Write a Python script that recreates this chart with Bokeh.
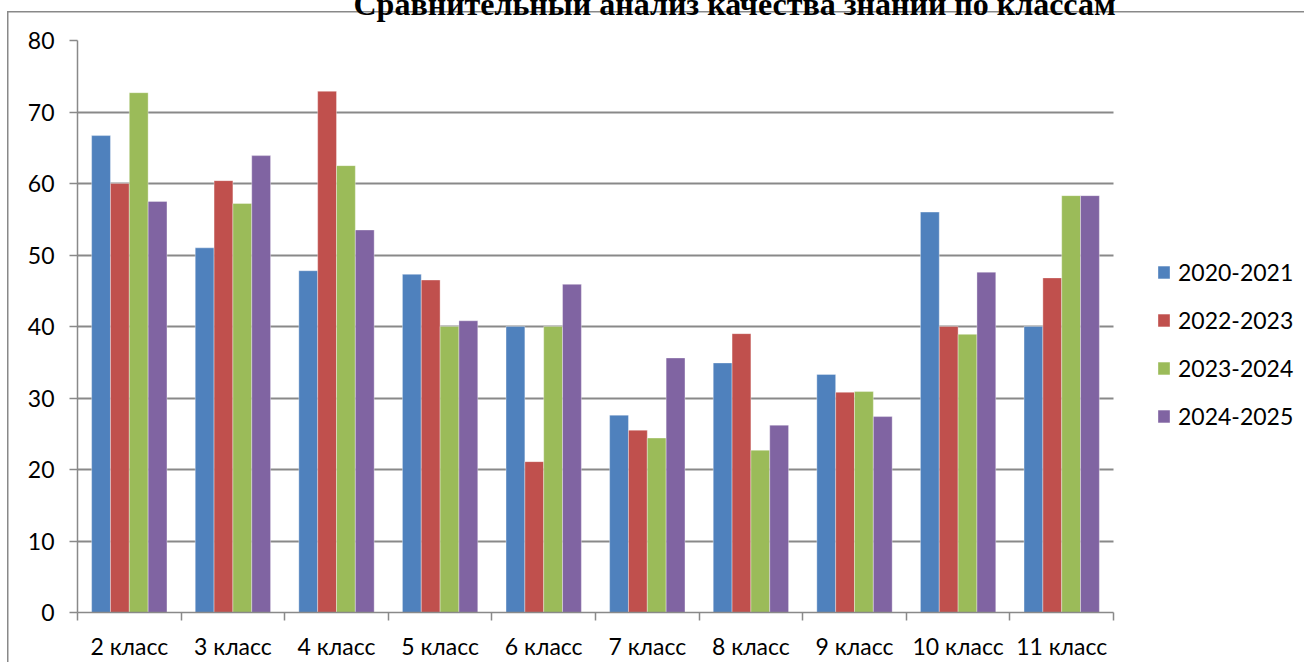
from bokeh.plotting import figure
from bokeh.models import Range1d, FixedTicker, Legend, LegendItem, ColumnDataSource
from bokeh.transform import dodge
from bokeh.embed import file_html
from bokeh.resources import INLINE

# ---- data ----
title_text = "Сравнительный анализ качества знаний по классам"
classes = ["2 класс", "3 класс", "4 класс", "5 класс", "6 класс",
           "7 класс", "8 класс", "9 класс", "10 класс", "11 класс"]
years = ["2020-2021", "2022-2023", "2023-2024", "2024-2025"]
v2020_2021 = [66.7, 51.0, 47.8, 47.3, 40.0, 27.6, 34.9, 33.3, 56.0, 40.0]
v2022_2023 = [60.0, 60.4, 72.9, 46.5, 21.1, 25.5, 39.0, 30.8, 40.0, 46.8]
v2023_2024 = [72.7, 57.2, 62.5, 40.0, 40.0, 24.4, 22.7, 30.9, 38.9, 58.3]
v2024_2025 = [57.5, 63.9, 53.5, 40.8, 45.9, 35.6, 26.2, 27.4, 47.6, 58.3]
y_ticks = [0, 10, 20, 30, 40, 50, 60, 70, 80]
colors = ["#4F81BD", "#C0504D", "#9BBB59", "#8064A2"]

series = [v2020_2021, v2022_2023, v2023_2024, v2024_2025]
n = len(classes)
centers = [i + 0.5 for i in range(n)]          # category slot centres
source = ColumnDataSource(data=dict(xc=centers, s0=series[0], s1=series[1],
                                    s2=series[2], s3=series[3]))

SHIFT = 36
W, H = 1304, 662 + SHIFT
GRAY = "#898989"
FONT = "Lato"

# plot area: categories occupy 77..1113 px, the legend sits to the right of them
PLOT_L, PLOT_R = 77, 1113
x_end = n * (W - PLOT_L) / (PLOT_R - PLOT_L)

p = figure(x_range=Range1d(0, x_end), y_range=Range1d(0, 80),
           width=W, height=H, output_backend="svg", toolbar_location=None,
           min_border_left=PLOT_L, min_border_right=0,
           min_border_top=0, min_border_bottom=662 - 612,
           title=title_text)
p.styles = {
    "margin-top": "-%dpx" % SHIFT,
    "background-image": "linear-gradient(%s,%s), linear-gradient(%s,%s)" % (GRAY, GRAY, GRAY, GRAY),
    "background-size": "1.5px 100%, 100% 1.5px",
    "background-position": "7px %dpx, 7px %dpx" % (11 + SHIFT, 11 + SHIFT),
    "background-repeat": "no-repeat",
}
p.outline_line_color = None
p.background_fill_color = "white"
p.border_fill_alpha = 0

p.title.text_font = "Liberation Serif"
p.title.text_font_style = "bold"
p.title.text_font_size = "32px"
p.title.text_color = "black"
p.title.align = "left"
p.title.offset = 276
p.title.standoff = 38

bw = 1 / 5.5
offsets = [-1.5 * bw, -0.5 * bw, 0.5 * bw, 1.5 * bw]
renderers = []
for i in range(4):
    r = p.vbar(x=dodge("xc", offsets[i]), top="s%d" % i,
               width=bw, bottom=0, source=source, fill_color=colors[i],
               line_color="white", line_alpha=0.35, line_width=1)
    renderers.append(r)

# grid / y axis
p.xgrid.visible = False
yg = p.ygrid[0]
yg.ticker = FixedTicker(ticks=y_ticks)
yg.grid_line_color = GRAY
yg.grid_line_width = 1.8
if hasattr(yg, "cross_bounds"):
    yg.cross_bounds = (0, n)

yax = p.yaxis[0]
yax.ticker = FixedTicker(ticks=y_ticks)
yax.axis_line_color = GRAY
yax.axis_line_width = 1.5
yax.major_tick_line_color = GRAY
yax.major_tick_line_width = 1.5
yax.major_tick_out = 8
yax.major_tick_in = 0
yax.minor_tick_line_color = None
yax.major_label_text_font = FONT
yax.major_label_text_font_size = "23px"
yax.major_label_text_color = "black"
yax.major_label_standoff = 15

# x axis: labels at slot centres, ticks at slot boundaries
xax = p.xaxis[0]
xax.bounds = (0, n)
xax.ticker = FixedTicker(ticks=centers, minor_ticks=list(range(n + 1)))
xax.major_label_overrides = {c: lab for c, lab in zip(centers, classes)}
xax.axis_line_color = GRAY
xax.axis_line_width = 1.5
xax.major_tick_line_color = None
xax.major_tick_out = 0
xax.major_tick_in = 0
xax.minor_tick_line_color = GRAY
xax.minor_tick_line_width = 1.5
xax.minor_tick_out = 8
xax.minor_tick_in = 0
xax.major_label_text_font = FONT
xax.major_label_text_font_size = "23px"
xax.major_label_text_color = "black"
xax.major_label_standoff = 11

# legend
items = [LegendItem(label=years[i], renderers=[renderers[i]]) for i in range(4)]
legend = Legend(items=items, location=(1079, 182), orientation="vertical",
                glyph_width=15, glyph_height=16, label_standoff=7,
                label_text_font=FONT, label_text_font_size="23px",
                label_text_color="black", spacing=20, padding=0, margin=0,
                border_line_color=None, background_fill_alpha=0)
p.add_layout(legend)

open("out.html", "w").write(file_html(p, INLINE))
